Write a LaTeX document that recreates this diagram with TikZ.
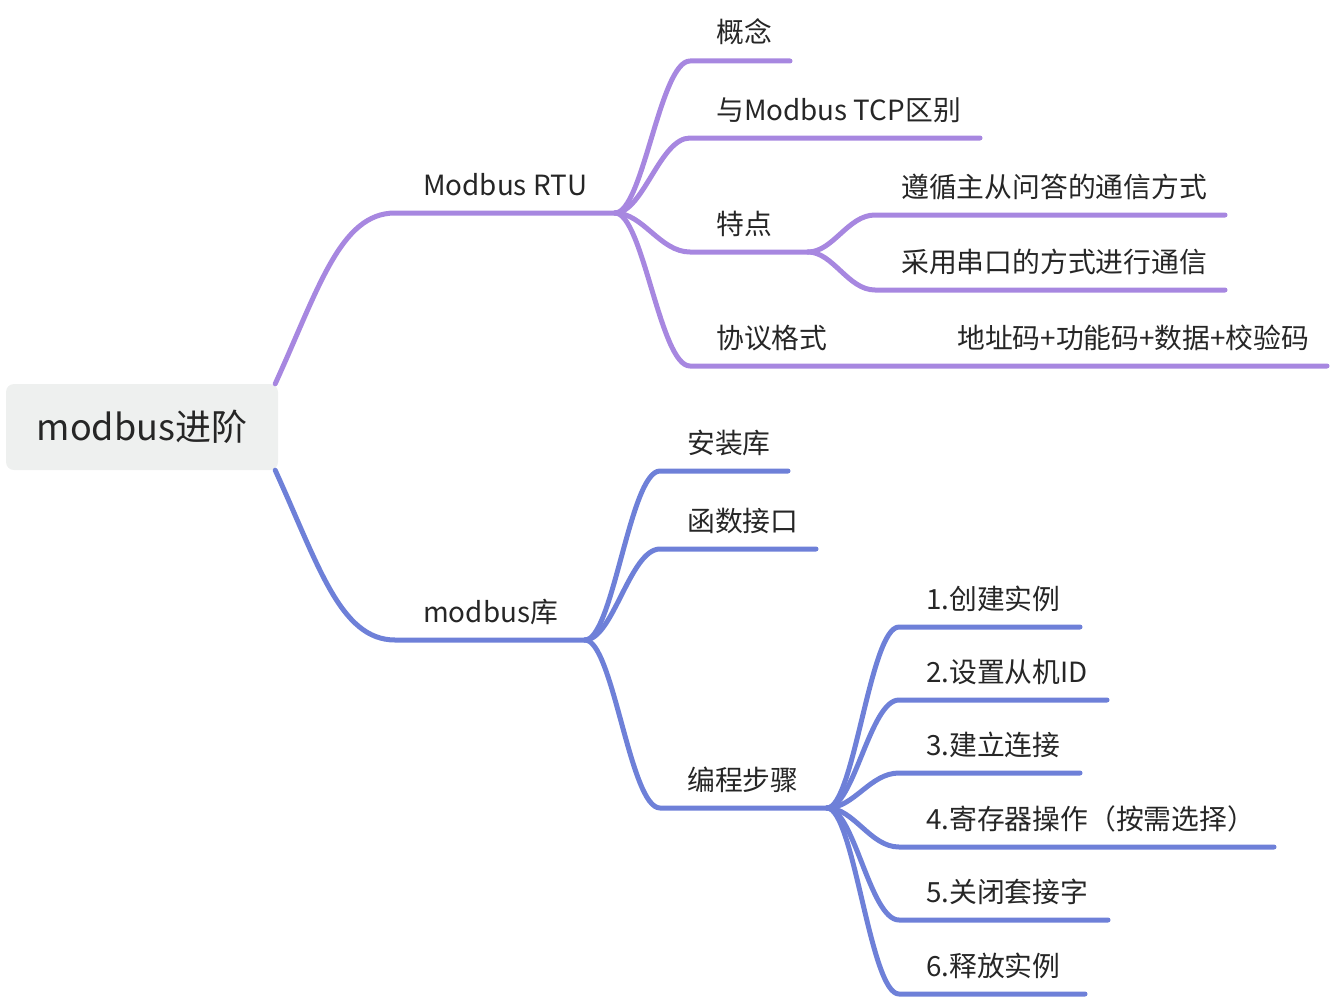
\documentclass[tikz,border=0pt]{standalone}
\usepackage{fontspec}
\newfontfamily\cjk{Noto Sans CJK SC}
\usetikzlibrary{positioning}
\definecolor{rtucol}{RGB}{167,135,224}
\definecolor{kucol}{RGB}{110,128,216}
\definecolor{rootfill}{RGB}{238,240,239}
\definecolor{txt}{RGB}{38,38,38}

\begin{document}
\begin{tikzpicture}[x=1pt,y=-1pt,
    rootbox/.style = {rectangle,rounded corners=8pt,fill=rootfill,minimum width=272pt,minimum height=86pt,inner sep=0pt,font=\cjk\fontsize{36}{40}\selectfont,text=txt},
    lbl/.style = {anchor=base west,inner sep=0pt,font=\cjk\fontsize{27.8}{32}\selectfont,text=txt},
    branch/.style = {line width=5pt,line cap=round,line join=round},
    rtu/.style = {branch,draw=rtucol},
    ku/.style = {branch,draw=kucol}]
\useasboundingbox (0,0) rectangle (1332,998);
\node[rootbox] (root) at (142,427) {modbus进阶};
% Modbus RTU
\coordinate (rtu-a) at (395,213); \coordinate (rtu-b) at (615,213);
\coordinate (gn-a) at (690,61);   \coordinate (gn-b) at (790,61);
\coordinate (tcp-a) at (690,138); \coordinate (tcp-b) at (980,138);
\coordinate (td-a) at (690,252);  \coordinate (td-b) at (808,252);
\coordinate (zc-a) at (875,215);  \coordinate (zc-b) at (1225,215);
\coordinate (ck-a) at (875,290);  \coordinate (ck-b) at (1225,290);
\coordinate (xy-a) at (690,366);  \coordinate (xy-b) at (930,366);
\coordinate (dz-b) at (1327,366);
\node[lbl] (rtu) at ([shift={(28,-18)}]rtu-a) {Modbus RTU};
\node[lbl] (gn) at ([shift={(26,-18)}]gn-a) {概念};
\node[lbl] (tcp) at ([shift={(26,-18)}]tcp-a) {与Modbus TCP区别};
\node[lbl] (td) at ([shift={(26,-18)}]td-a) {特点};
\node[lbl] (zc) at ([shift={(26,-18)}]zc-a) {遵循主从问答的通信方式};
\node[lbl] (ck) at ([shift={(26,-18)}]ck-a) {采用串口的方式进行通信};
\node[lbl] (xy) at ([shift={(26,-18)}]xy-a) {协议格式};
\node[lbl] (dz) at ([shift={(27,-18)}]xy-b) {地址码+功能码+数据+校验码};
\draw[rtu] ([xshift=-3pt]root.north east) .. controls +(43,-94) and +(-55,0) .. (rtu-a) -- (rtu-b);
\draw[rtu] (rtu-b) .. controls +(28,0) and +(-30,0) .. (gn-a) -- (gn-b);
\draw[rtu] (rtu-b) .. controls +(28,0) and +(-30,0) .. (tcp-a) -- (tcp-b);
\draw[rtu] (rtu-b) .. controls +(28,0) and +(-30,0) .. (td-a) -- (td-b);
\draw[rtu] (rtu-b) .. controls +(28,0) and +(-30,0) .. (xy-a) -- (xy-b) -- (dz-b);
\draw[rtu] (td-b) .. controls +(25,0) and +(-27,0) .. (zc-a) -- (zc-b);
\draw[rtu] (td-b) .. controls +(25,0) and +(-27,0) .. (ck-a) -- (ck-b);
% modbus库
\coordinate (ku-a) at (395,640); \coordinate (ku-b) at (585,640);
\coordinate (az-a) at (660,471); \coordinate (az-b) at (788,471);
\coordinate (hs-a) at (660,549); \coordinate (hs-b) at (816,549);
\coordinate (bc-a) at (660,808); \coordinate (bc-b) at (827,808);
\node[lbl] (ku) at ([shift={(28,-18)}]ku-a) {modbus库};
\node[lbl] (az) at ([shift={(27,-18)}]az-a) {安装库};
\node[lbl] (hs) at ([shift={(27,-18)}]hs-a) {函数接口};
\node[lbl] (bc) at ([shift={(27,-18)}]bc-a) {编程步骤};
\draw[ku] ([xshift=-3pt]root.south east) .. controls +(43,94) and +(-55,0) .. (ku-a) -- (ku-b);
\draw[ku] (ku-b) .. controls +(28,0) and +(-30,0) .. (az-a) -- (az-b);
\draw[ku] (ku-b) .. controls +(28,0) and +(-30,0) .. (hs-a) -- (hs-b);
\draw[ku] (ku-b) .. controls +(28,0) and +(-30,0) .. (bc-a) -- (bc-b);
\foreach \t/\y/\e [count=\i] in {1.创建实例/627/1080,2.设置从机ID/700/1107,3.建立连接/773/1080,4.寄存器操作（按需选择）/847/1274,5.关闭套接字/920/1108,6.释放实例/994/1085} {
    \coordinate (s\i-a) at (899,\y); \coordinate (s\i-b) at (\e,\y);
    \node[lbl] (s\i) at ([shift={(27,-18)}]s\i-a) {\t};
    \draw[ku] (bc-b) .. controls +(27,0) and +(-29,0) .. (s\i-a) -- (s\i-b);
}
\end{tikzpicture}
\end{document}
